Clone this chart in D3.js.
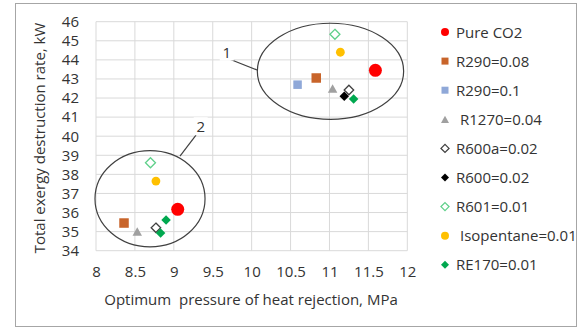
<!DOCTYPE html>
<html>
<head>
<meta charset="utf-8">
<script src="https://cdn.jsdelivr.net/npm/d3@7"></script>
<style>
	body { margin: 0; background: #fff; }
	svg text { font-family: "Open Sans", sans-serif; fill: #333; }
</style>
</head>
<body>
<div id="chart"></div>
<script>

// series and their points (pressure in MPa, exergy destruction in kW)
var seriesNames = ["Pure CO2", "R290=0.08", "R290=0.1", "R1270=0.04", "R600a=0.02", "R600=0.02", "R601=0.01", "Isopentane=0.01", "RE170=0.01"];
var pressure = [
	[11.59, 9.05],
	[10.83, 8.36],
	[10.59],
	[11.04, 8.53],
	[11.25, 8.77],
	[11.19],
	[11.07, 8.70],
	[11.14, 8.77],
	[11.31, 8.90, 8.83]
];
var destruction = [
	[43.45, 36.17],
	[43.05, 35.45],
	[42.70],
	[42.50, 35.01],
	[42.42, 35.20],
	[42.09],
	[45.34, 38.61],
	[44.40, 37.65],
	[41.95, 35.61, 34.93]
];
var xTicks = [8, 8.5, 9, 9.5, 10, 10.5, 11, 11.5, 12];
var yTicks = [34, 35, 36, 37, 38, 39, 40, 41, 42, 43, 44, 45, 46];

// group annotations: ellipses and numbered leader lines (data coordinates)
var groupLabels = ["1", "2"];
var ellipseCenter = [[11.013, 43.40], [8.694, 36.72]];
var ellipseRadius = [[0.94, 2.52], [0.707, 2.52]];
var leaderFrom = [[9.72, 44.03], [9.285, 40.06]];
var leaderTo = [[10.07, 43.47], [9.079, 38.96]];
var labelAt = [[9.68, 44.38], [9.345, 40.47]];

// marker styles
var colors = ["#ff0000", "#c8642a", "#8fa8d8", "#a0a0a0", "#404040", "#000000", "#5fd08a", "#ffc000", "#00a84f"];
var shapes = ["circle", "square", "square", "triangle", "diamond", "diamond", "diamond", "circle", "diamond"];
var hollow = [false, false, false, false, true, false, true, false, false];
var plotSize = [6.5, 9.5, 8.5, 9.5, 9.5, 9.5, 10, 4.4, 9.5];
var legendSize = [4, 7, 7, 8, 8, 8, 8, 4, 8];

var W = 579, H = 329,
	margins = {top: 21.7, left: 96, right: 171.7, bottom: 78.3},
	width = W - margins.left - margins.right,
	height = H - margins.top - margins.bottom;

var svg = d3.select("#chart")
	.append("svg")
		.attr("width", W)
		.attr("height", H);

svg.append("rect")
	.attr("x", 15.5).attr("y", 3.5)
	.attr("width", 561).attr("height", 323)
	.attr("fill", "#fff")
	.attr("stroke", "#a6a6a6");

var g = svg.append("g")
	.attr("transform", "translate(" + margins.left + "," + margins.top + ")");

var xScale = d3.scaleLinear().domain([8, 12]).range([0, width]);
var yScale = d3.scaleLinear().domain([34, 46]).range([height, 0]);

// gridlines
g.append("g").selectAll("line").data(yTicks).enter().append("line")
	.attr("x1", 0).attr("x2", width)
	.attr("y1", function(d) { return yScale(d); })
	.attr("y2", function(d) { return yScale(d); })
	.attr("stroke", "#d9d9d9");
g.append("g").selectAll("line").data(xTicks).enter().append("line")
	.attr("y1", 0).attr("y2", height)
	.attr("x1", function(d) { return xScale(d); })
	.attr("x2", function(d) { return xScale(d); })
	.attr("stroke", "#d9d9d9");

var xAxis = d3.axisBottom(xScale).tickValues(xTicks).tickSize(0).tickPadding(16).tickFormat(d3.format("~g"));
var yAxis = d3.axisLeft(yScale).tickValues(yTicks).tickSize(0).tickPadding(17);

g.append("g")
	.attr("class", "x axis")
	.attr("transform", "translate(0," + height + ")")
	.call(xAxis)
	.call(function(a) { a.select(".domain").remove(); });
g.append("g")
	.attr("class", "y axis")
	.call(yAxis)
	.call(function(a) { a.select(".domain").remove(); });

svg.selectAll(".axis text")
	.attr("font-size", 15)
	.style("font-family", "'Open Sans', sans-serif")
	.attr("fill", "#333");

svg.append("text")
	.attr("x", 251).attr("y", 305)
	.attr("text-anchor", "middle")
	.attr("font-size", 15)
	.attr("xml:space", "preserve")
	.text("Optimum  pressure of heat rejection, MPa");

svg.append("text")
	.attr("transform", "translate(45,138) rotate(-90)")
	.attr("text-anchor", "middle")
	.attr("font-size", 15)
	.text("Total exergy destruction rate, kW");

// annotations
var ann = g.append("g");
groupLabels.forEach(function(lbl, i) {
	ann.append("ellipse")
		.attr("cx", xScale(ellipseCenter[i][0]))
		.attr("cy", yScale(ellipseCenter[i][1]))
		.attr("rx", xScale(ellipseRadius[i][0]) - xScale(0))
		.attr("ry", yScale(0) - yScale(ellipseRadius[i][1]))
		.attr("fill", "none")
		.attr("stroke", "#404040")
		.attr("stroke-width", 1.2);
	ann.append("line")
		.attr("x1", xScale(leaderFrom[i][0])).attr("y1", yScale(leaderFrom[i][1]))
		.attr("x2", xScale(leaderTo[i][0])).attr("y2", yScale(leaderTo[i][1]))
		.attr("stroke", "#404040")
		.attr("stroke-width", 1.2);
	ann.append("rect")
		.attr("x", xScale(labelAt[i][0]) - 7).attr("y", yScale(labelAt[i][1]) - 10)
		.attr("width", 14).attr("height", 18)
		.attr("fill", "#fff");
	ann.append("text")
		.attr("x", xScale(labelAt[i][0]))
		.attr("y", yScale(labelAt[i][1]) + 5)
		.attr("text-anchor", "middle")
		.attr("font-size", 15)
		.text(lbl);
});

function marker(sel, i, s) {
	var m;
	if (shapes[i] == "circle") {
		m = sel.append("circle").attr("r", s);
	} else if (shapes[i] == "square") {
		m = sel.append("rect").attr("x", -s/2).attr("y", -s/2).attr("width", s).attr("height", s);
	} else if (shapes[i] == "triangle") {
		var h = s * 0.9;
		m = sel.append("path").attr("d", "M0," + (-h/2) + "L" + (s/2) + "," + (h/2) + "L" + (-s/2) + "," + (h/2) + "Z");
	} else {
		var r = s / 2;
		m = sel.append("path").attr("d", "M0," + (-r) + "L" + r + ",0L0," + r + "L" + (-r) + ",0Z");
	}
	if (hollow[i]) {
		m.attr("fill", "#fff").attr("stroke", colors[i]).attr("stroke-width", 1.3);
	} else {
		m.attr("fill", colors[i]);
	}
}

// points; draw in an order that keeps the black diamond above the hollow one
var order = [1, 2, 3, 4, 5, 8, 6, 7, 0];
order.forEach(function(i) {
	pressure[i].forEach(function(p, j) {
		var pt = g.append("g")
			.attr("transform", "translate(" + xScale(p) + "," + yScale(destruction[i][j]) + ")");
		marker(pt, i, plotSize[i]);
	});
});

// legend
var legend = svg.append("g").attr("transform", "translate(445,32)");
seriesNames.forEach(function(name, i) {
	var item = legend.append("g").attr("transform", "translate(0," + (i * 29.1) + ")");
	marker(item, i, legendSize[i]);
	item.append("text")
		.attr("x", (i == 3 || i == 7) ? 15 : 11)
		.attr("y", 5.5)
		.attr("font-size", 15)
		.text(name);
});

</script>
</body>
</html>
